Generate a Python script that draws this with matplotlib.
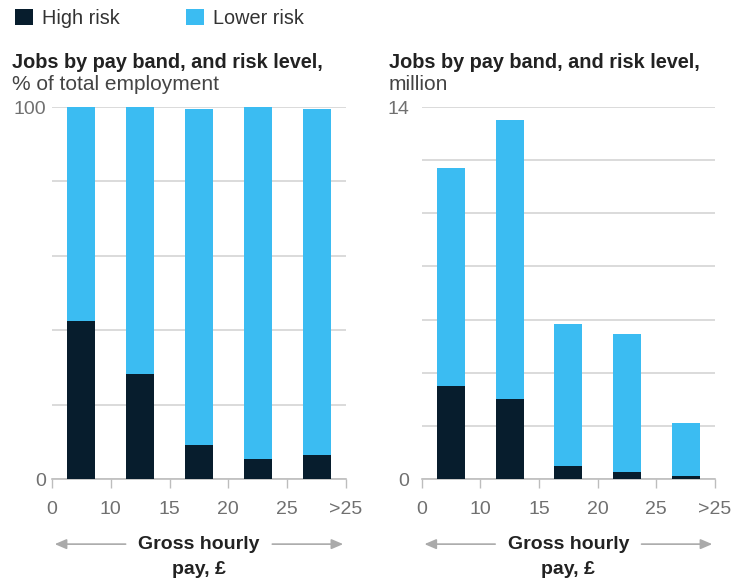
import numpy as np
import matplotlib.pyplot as plt

plt.rcParams['font.family'] = ['Liberation Sans', 'DejaVu Sans']

# pay bands (tick labels sit on band edges)
band_edges = ['0', '10', '15', '20', '25', '>25']

# share of total employment, %
share_high = [42.5, 28.2, 9.1, 5.4, 6.5]
share_lower = [57.5, 71.8, 90.4, 94.6, 93.0]

# jobs, million
jobs_high = [3.5, 3.0, 0.5, 0.26, 0.11]
jobs_lower = [8.2, 10.5, 5.35, 5.2, 2.0]

dark = '#071d2d'
light = '#3bbcf2'
grid_col = '#d4d4d4'
tick_col = '#707070'
text_col = '#222222'

fig = plt.figure(figsize=(7.32, 5.8), dpi=100)
ax1 = fig.add_axes([0.0710, 0.1741, 0.4016, 0.6414])
ax2 = fig.add_axes([0.5761, 0.1741, 0.4007, 0.6414])

x = np.arange(len(share_high)) + 0.5
w = 0.477


def style(ax, ymax, step, ypad):
    ax.set_xlim(0, 5)
    ax.set_ylim(0, ymax)
    yt = np.arange(0, ymax + step / 2, step)
    ax.set_yticks(yt)
    ax.set_yticklabels([f'{v:g}' if v in (0, ymax) else '' for v in yt])
    ax.set_xticks(range(6))
    ax.set_xticklabels(band_edges)
    ax.grid(axis='y', color=grid_col, linewidth=1.2)
    ax.set_axisbelow(True)
    for s in ['top', 'right', 'left']:
        ax.spines[s].set_visible(False)
    ax.spines['bottom'].set_color('#bdbdbd')
    ax.spines['bottom'].set_linewidth(1.2)
    ax.tick_params(axis='x', length=6.5, width=1, color='#bdbdbd',
                   labelsize=14, labelcolor=tick_col, pad=9)
    ax.tick_params(axis='y', length=0, labelsize=14, labelcolor=tick_col,
                   pad=ypad)


b1 = ax1.bar(x, share_high, w, color=dark, label='High risk', zorder=3)
b2 = ax1.bar(x, share_lower, w, bottom=share_high, color=light,
             label='Lower risk', zorder=3)
style(ax1, 100, 20, 4)

ax2.bar(x, jobs_high, w, color=dark, zorder=3)
ax2.bar(x, jobs_lower, w, bottom=jobs_high, color=light, zorder=3)
style(ax2, 14, 2, 9)

# titles
fig.text(0.016, 0.893, 'Jobs by pay band, and risk level,', fontsize=14.3,
         fontweight='bold', color=text_col, va='center')
fig.text(0.016, 0.855, '% of total employment', fontsize=15,
         color='#444444', va='center')
fig.text(0.531, 0.893, 'Jobs by pay band, and risk level,', fontsize=14.3,
         fontweight='bold', color=text_col, va='center')
fig.text(0.531, 0.855, 'million', fontsize=15, color='#444444',
         va='center')

# legend
fig.legend(handles=[b1, b2], loc='center left', bbox_to_anchor=(-0.004, 0.968),
           ncol=2, frameon=False, fontsize=14.3, handlelength=0.9,
           handleheight=0.9, handletextpad=0.45, columnspacing=3.35,
           labelcolor='#333333')

# x-axis caption with arrows
for ax in (ax1, ax2):
    ax.text(0.5, -0.175, 'Gross hourly', transform=ax.transAxes,
            ha='center', va='center', fontsize=14, fontweight='bold',
            color=text_col)
    ax.text(0.5, -0.243, 'pay, £', transform=ax.transAxes,
            ha='center', va='center', fontsize=14, fontweight='bold',
            color=text_col)
    arrow = dict(arrowstyle='-|>,head_length=0.7,head_width=0.3',
                 color='#aaaaaa', lw=1.2)
    ax.annotate('', xy=(0.0, -0.175), xytext=(0.26, -0.175),
                xycoords='axes fraction', textcoords='axes fraction',
                arrowprops=arrow, annotation_clip=False)
    ax.annotate('', xy=(1.0, -0.175), xytext=(0.74, -0.175),
                xycoords='axes fraction', textcoords='axes fraction',
                arrowprops=arrow, annotation_clip=False)

fig.savefig('out.png', dpi=100)
